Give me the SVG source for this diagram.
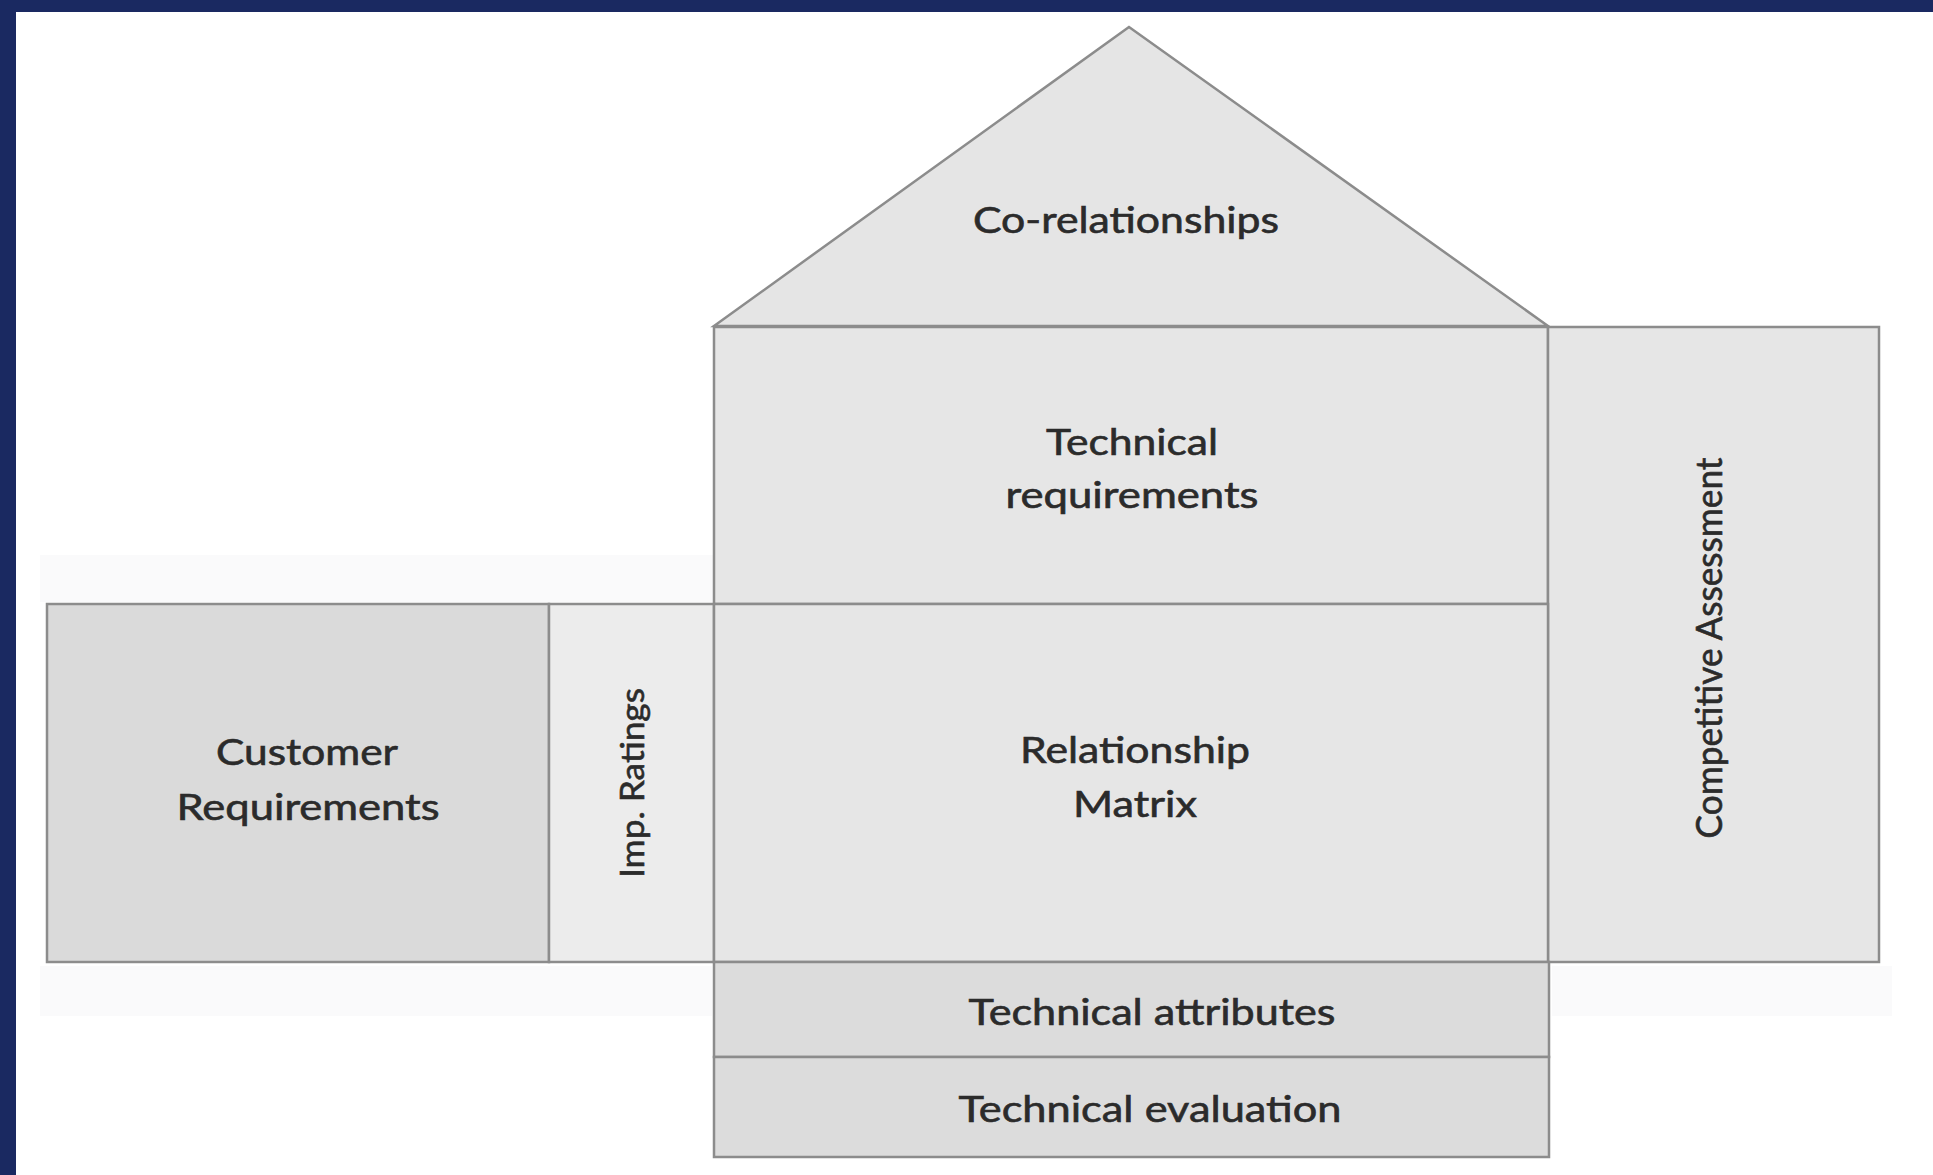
<svg xmlns="http://www.w3.org/2000/svg" width="1933" height="1175" viewBox="0 0 1933 1175">
<style>
.box{stroke:#8c8c8c;stroke-width:2.5}
.lbl{font-family:Lato,"Open Sans","Liberation Sans",sans-serif;font-size:36px;fill:#2b2b2b;stroke:#2b2b2b;stroke-width:0.6;text-anchor:middle}
.halo{fill:#fafafb}
</style>
<rect x="0" y="0" width="1933" height="1175" fill="#ffffff"/>
<rect x="0" y="0" width="1933" height="12" fill="#1a2961"/>
<rect x="0" y="0" width="16" height="1175" fill="#1a2961"/>
<g id="halo">
<rect class="halo" x="40" y="555" width="674" height="47"/>
<rect class="halo" x="40" y="966" width="672" height="50"/>
<rect class="halo" x="1552" y="966" width="340" height="50"/>
</g>
<g id="roof">
<polygon class="box" points="1129,27 714,326 1548,326" fill="#e5e5e5"/>
<text class="lbl" x="1126" y="233" textLength="306" lengthAdjust="spacingAndGlyphs">Co-relationships</text>
</g>
<g id="technical-requirements">
<rect class="box" x="714" y="327" width="834" height="277" fill="#e6e6e6"/>
<text class="lbl" x="1132" y="455" textLength="172" lengthAdjust="spacingAndGlyphs">Technical</text>
<text class="lbl" x="1132" y="508" textLength="253" lengthAdjust="spacingAndGlyphs">requirements</text>
</g>
<g id="competitive-assessment">
<rect class="box" x="1548" y="327" width="331" height="635" fill="#e6e6e6"/>
<text class="lbl" transform="translate(1722,648) rotate(-90)" textLength="381" lengthAdjust="spacingAndGlyphs">Competitive Assessment</text>
</g>
<g id="customer-requirements">
<rect class="box" x="47" y="604" width="502" height="358" fill="#dadada"/>
<text class="lbl" x="307" y="765" textLength="182" lengthAdjust="spacingAndGlyphs">Customer</text>
<text class="lbl" x="308" y="820" textLength="263" lengthAdjust="spacingAndGlyphs">Requirements</text>
</g>
<g id="imp-ratings">
<rect class="box" x="549" y="604" width="165" height="358" fill="#ececec"/>
<text class="lbl" style="font-size:33px" transform="translate(644,783) rotate(-90)" textLength="190" lengthAdjust="spacingAndGlyphs">Imp. Ratings</text>
</g>
<g id="relationship-matrix">
<rect class="box" x="714" y="604" width="834" height="358" fill="#e6e6e6"/>
<text class="lbl" x="1135" y="763" textLength="230" lengthAdjust="spacingAndGlyphs">Relationship</text>
<text class="lbl" x="1135" y="817" textLength="124" lengthAdjust="spacingAndGlyphs">Matrix</text>
</g>
<g id="technical-attributes">
<rect class="box" x="714" y="962" width="835" height="95" fill="#dcdcdc"/>
<text class="lbl" x="1152" y="1025" textLength="367" lengthAdjust="spacingAndGlyphs">Technical attributes</text>
</g>
<g id="technical-evaluation">
<rect class="box" x="714" y="1057" width="835" height="100" fill="#dcdcdc"/>
<text class="lbl" x="1150" y="1122" textLength="383" lengthAdjust="spacingAndGlyphs">Technical evaluation</text>
</g>
<g id="connectors"></g>
</svg>
